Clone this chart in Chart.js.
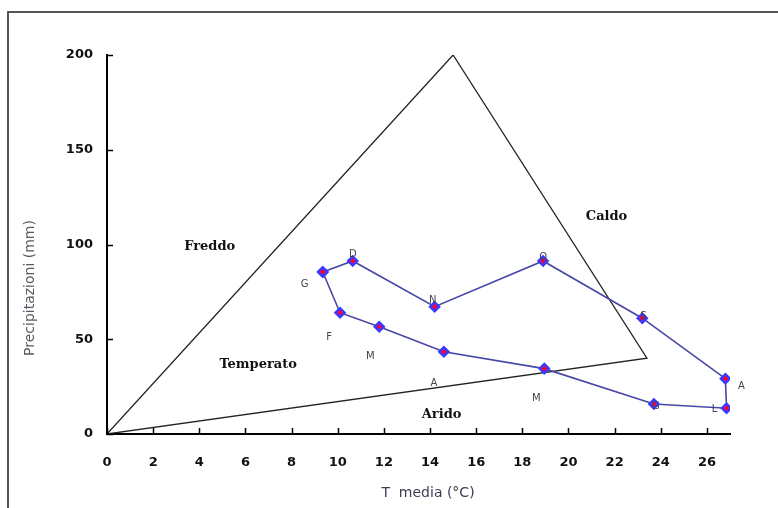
<!DOCTYPE html>
<html>
<head>
<meta charset="utf-8">
<script src="https://cdn.jsdelivr.net/npm/chart.js@4"></script>
<style>
  html, body { margin: 0; padding: 0; background: #fff; }
  canvas { display: block; }
</style>
</head>
<body>
<canvas id="c" width="778" height="508"></canvas>
<script>
// monthly values, Jan..Dec then back to Jan to close the loop
const months = ['G', 'F', 'M', 'A', 'M', 'G', 'L', 'A', 'S', 'O', 'N', 'D'];
const tempMedia = [9.35, 10.1, 11.8, 14.6, 18.95, 23.7, 26.85, 26.8, 23.2, 18.9, 14.2, 10.65];
const precip = [85.5, 64, 56.6, 43.4, 34.5, 15.8, 13.6, 29.2, 61.1, 91.3, 67.2, 91.3];

// climate triangle
const triX = [0, 15, 23.4, 0];
const triY = [0, 200, 40, 0];

// region names and where they sit (data units)
const regions = ['Freddo', 'Caldo', 'Temperato', 'Arido'];
const regionX = [4.45, 21.65, 6.55, 14.5];
const regionY = [99, 114.5, 36.4, 10];

// month letter offsets from each point, in px
const labelDx = [-18, -11, -9, -10, -8, 2, -12, 16, 1, 0, -2, 0];
const labelDy = [12, 25, 30, 32, 30, 2, 1, 8, -2, -4, -6, -7];

const loop = tempMedia.map((t, i) => ({ x: t, y: precip[i] }));
loop.push({ x: tempMedia[0], y: precip[0] });
const tri = triX.map((x, i) => ({ x, y: triY[i] }));

const extras = {
  id: 'extras',
  beforeDraw(chart) {
    const ctx = chart.ctx;
    ctx.save();
    ctx.strokeStyle = '#555';
    ctx.lineWidth = 2;
    ctx.beginPath();
    ctx.moveTo(8, 508); ctx.lineTo(8, 12); ctx.lineTo(778, 12);
    ctx.stroke();
    ctx.restore();
  },
  afterDraw(chart) {
    const { ctx, scales: { x, y } } = chart;
    ctx.save();
    // inward tick marks
    ctx.strokeStyle = '#000';
    ctx.lineWidth = 1.5;
    ctx.beginPath();
    x.ticks.forEach(t => {
      const px = Math.round(x.getPixelForValue(t.value)) + 0.5;
      ctx.moveTo(px, y.bottom); ctx.lineTo(px, y.bottom - 6);
    });
    y.ticks.forEach(t => {
      const py = Math.round(y.getPixelForValue(t.value)) + 0.5;
      ctx.moveTo(x.left, py); ctx.lineTo(x.left + 6, py);
    });
    ctx.stroke();

    // region names
    ctx.fillStyle = '#111';
    ctx.font = 'bold 13px "DejaVu Serif"';
    ctx.textAlign = 'center';
    ctx.textBaseline = 'middle';
    regions.forEach((r, i) => ctx.fillText(r, x.getPixelForValue(regionX[i]), y.getPixelForValue(regionY[i])));

    // month letters
    ctx.fillStyle = '#444';
    ctx.font = '10px "DejaVu Sans"';
    months.forEach((m, i) => {
      ctx.fillText(m, x.getPixelForValue(tempMedia[i]) + labelDx[i], y.getPixelForValue(precip[i]) + labelDy[i]);
    });

    // axis titles
    ctx.fillStyle = '#3c3c55';
    ctx.font = '14px "DejaVu Sans"';
    ctx.fillText('T  media (°C)', 428, 493);
    ctx.translate(30, 288);
    ctx.rotate(-Math.PI / 2);
    ctx.fillStyle = '#5a5a66';
    ctx.fillText('Precipitazioni (mm)', 0, 0);
    ctx.restore();
  }
};

new Chart(document.getElementById('c'), {
  type: 'scatter',
  data: {
    datasets: [
      {
        data: loop, showLine: true,
        borderColor: '#4646a6', borderWidth: 1.6,
        pointStyle: 'rectRot', pointRadius: 4.5, pointHoverRadius: 4.5,
        pointBackgroundColor: '#ff0033', pointBorderColor: '#3a3aff', pointBorderWidth: 2.5
      },
      {
        data: tri, showLine: true,
        borderColor: '#222', borderWidth: 1.3, pointRadius: 0
      }
    ]
  },
  options: {
    responsive: false, animation: false, devicePixelRatio: 1,
    layout: { padding: { left: 10, top: 55, right: 48, bottom: 0 } },
    plugins: { legend: { display: false }, tooltip: { enabled: false } },
    scales: {
      x: {
        type: 'linear', min: 0, max: 27,
        afterFit: s => { s.height = 74; },
        afterBuildTicks: s => { s.ticks = s.ticks.filter(t => t.value % 2 === 0); },
        grid: { display: false, drawTicks: false },
        border: { display: true, color: '#000', width: 2 },
        ticks: { stepSize: 2, padding: 21, color: '#111', font: { family: 'DejaVu Sans', size: 13, weight: 'bold' } }
      },
      y: {
        min: 0, max: 200,
        afterFit: s => { s.width = 97; },
        grid: { display: false, drawTicks: false },
        border: { display: true, color: '#000', width: 2 },
        ticks: { stepSize: 50, padding: 14, color: '#111', font: { family: 'DejaVu Sans', size: 13, weight: 'bold' } }
      }
    }
  },
  plugins: [extras]
});
</script>
</body>
</html>
